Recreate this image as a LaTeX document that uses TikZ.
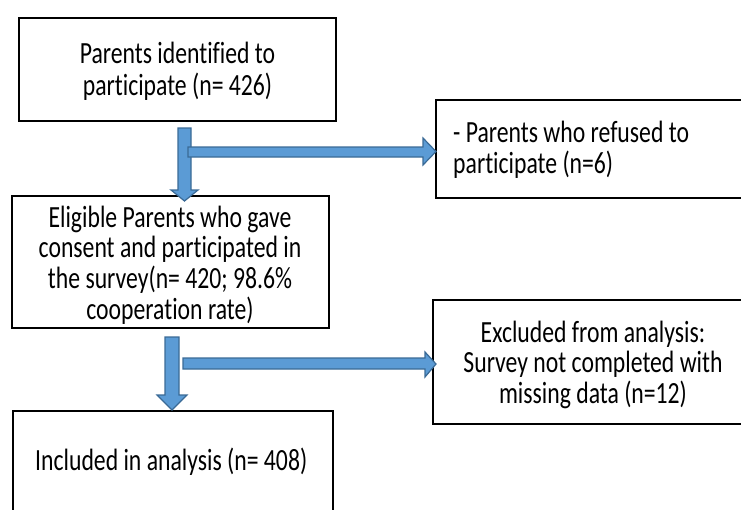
\documentclass[tikz,border=0pt]{standalone}
\usepackage{fontspec}
\setmainfont[Ligatures=NoCommon]{Carlito}
\newcommand{\vtext}[3]{\scalebox{1}[1.3]{\fontsize{23.7}{#2}\selectfont\begin{tabular}[t]{@{}#1@{}}#3\end{tabular}}}
\begin{document}
\begin{tikzpicture}[x=1pt,y=-1pt,
  box/.style={draw=black,line width=2pt,fill=white,anchor=north west,inner sep=0pt},
  blk/.style={fill=arrowfill,draw=arrowline,line width=1.2pt,line join=miter},
  txt/.style={inner sep=0pt,anchor=base}]
\definecolor{arrowfill}{HTML}{5B9BD5}
\definecolor{arrowline}{HTML}{3A6A96}
\useasboundingbox (0,0) rectangle (741,509);
\clip (0,0) rectangle (741,509);
% boxes
\node[box,minimum width=317pt,minimum height=103pt] (b1) at (18,17) {};
\node[box,minimum width=306pt,minimum height=98pt] (b2) at (435,99) {};
\node[box,minimum width=317pt,minimum height=132pt] (b3) at (11,195) {};
\node[box,minimum width=309pt,minimum height=124pt] (b4) at (432,299) {};
\node[box,minimum width=320pt,minimum height=130pt] (b5) at (12,410) {};
% texts
\node[txt] (t1) at (177.5,63) {\vtext{c}{24.6}{Parents identified to\\participate (n= 426)}};
\node[txt,anchor=base west] (t2) at (453,142) {\vtext{l}{23.1}{- Parents who refused to\\participate (n=6)}};
\node[txt] (t3) at (170,227) {\vtext{c}{22.6}{Eligible Parents who gave\\consent and participated in\\the survey(n= 420; 98.6\%\\cooperation rate)}};
\node[txt] (t4) at (593,342) {\vtext{c}{23.1}{Excluded from analysis:\\Survey not completed with\\missing data (n=12)}};
\node[txt,anchor=base west] (t5) at (35,470) {\vtext{l}{23}{Included in analysis (n= 408)}};
% block arrows
\draw[blk] (178,128) -- (191,128) -- (191,190) -- (198,190) -- (184.5,201) -- (171,190) -- (178,190) -- cycle;
\draw[blk] (188,147) -- (423,147) -- (423,138) -- (436,151.5) -- (423,165) -- (423,157) -- (188,157) -- cycle;
\draw[blk] (165,337) -- (179,337) -- (179,395) -- (187,395) -- (172,410) -- (157,395) -- (165,395) -- cycle;
\draw[blk] (183,358) -- (425,358) -- (425,352) -- (436,364) -- (425,377) -- (425,369) -- (183,369) -- cycle;
\end{tikzpicture}
\end{document}
